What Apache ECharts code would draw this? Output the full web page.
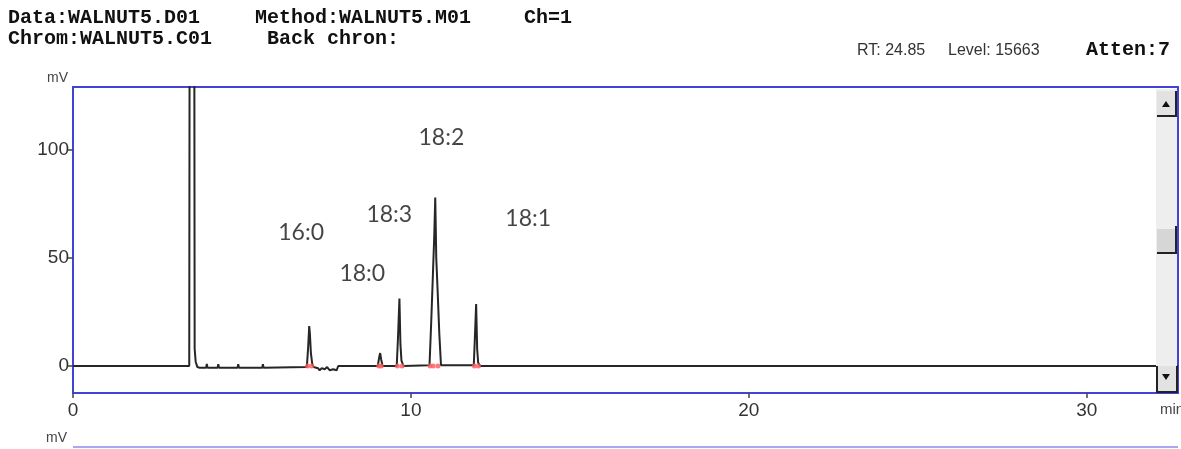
<!DOCTYPE html>
<html>
<head>
<meta charset="utf-8">
<script src="https://cdn.jsdelivr.net/npm/echarts@6/dist/echarts.min.js"></script>
<style>
html,body{margin:0;padding:0;background:#fff;}
#chart{width:1181px;height:449px;}
</style>
</head>
<body>
<div id="chart"></div>
<script>
// Retention time (min) and detector signal (mV)
const timeMin = [0, 3.44, 3.46, 3.58, 3.60, 3.63, 3.68, 3.75, 3.94, 3.96, 3.98, 4.28, 4.30, 4.32, 4.87, 4.89, 4.91, 5.60, 5.62, 5.64,
  6.92, 6.96, 6.99, 7.01, 7.04, 7.08, 7.12, 7.25, 7.30, 7.36, 7.45, 7.52, 7.60, 7.70, 7.80, 7.85,
  9.02, 9.06, 9.09, 9.12, 9.16, 9.58, 9.62, 9.66, 9.69, 9.72, 9.78,
  10.55, 10.60, 10.65, 10.69, 10.72, 10.75, 10.79, 10.84, 10.89,
  11.86, 11.89, 11.93, 11.96, 11.99, 12.05, 32.7];
const signalMv = [0, 0, 300, 300, 8, 2, -0.5, -0.8, -0.8, 1, -0.8, -0.8, 0.8, -0.8, -0.8, 0.8, -0.8, -0.8, 0.8, -0.8,
  -0.5, 9, 18.5, 15, 6, 1, -0.5, -1, -2, -1, -1.5, -0.5, -2, -1.5, -2, 0,
  0, 4, 6, 3, 0, 0, 14, 31.3, 10, 2.5, 0,
  0.3, 20, 42, 60, 78, 50, 35, 15, 0.3,
  0.3, 12, 28.7, 8, 1.5, 0, 0];
// Integration marks (peak start / end) on the baseline
const markTimes = [6.94, 7.06, 9.05, 9.12, 9.60, 9.74, 10.57, 10.66, 10.80, 11.88, 12.00];
const markMv = [0, 0, 0, 0, 0, 0, 0, 0, 0, 0, 0];
// Peak annotations
const peakNames = ['16:0', '18:0', '18:3', '18:2', '18:1'];
const peakLabelTime = [6.75, 8.56, 9.36, 10.90, 13.47];
const peakLabelMv = [61.6, 42.6, 69.9, 105.6, 68.1];
// Axis ticks
const xTicks = [0, 10, 20, 30];
const yTicks = [0, 50, 100];

const chart = echarts.init(document.getElementById('chart'), null, {renderer: 'canvas'});
const mono = '"Liberation Mono", "DejaVu Sans Mono", monospace';
const narrow = '"Liberation Sans Narrow", "Liberation Sans", Arial, sans-serif';
const blue = '#4343d6';

const option = {
  animation: false,
  backgroundColor: '#ffffff',
  grid: {left: 73, top: 87, width: 1105, height: 306, show: true, borderColor: blue, borderWidth: 2, backgroundColor: 'transparent'},
  xAxis: {
    type: 'value', min: 0, max: 32.7,
    axisLine: {show: false, onZero: false},
    splitLine: {show: false},
    axisTick: {show: true, inside: false, length: 5, lineStyle: {color: '#444', width: 1.5}, customValues: xTicks},
    axisLabel: {customValues: xTicks, color: '#333', fontFamily: narrow, fontSize: 19, margin: 8}
  },
  yAxis: {
    type: 'value', min: -12.5, max: 129.2,
    axisLine: {show: false, onZero: false},
    splitLine: {show: false},
    axisTick: {show: true, inside: false, length: 5, lineStyle: {color: '#444', width: 1.5}, customValues: yTicks},
    axisLabel: {customValues: yTicks, color: '#333', fontFamily: narrow, fontSize: 19, margin: 4}
  },
  series: [
    {
      type: 'line', data: timeMin.map((t, i) => [t, signalMv[i]]),
      showSymbol: false, clip: true, z: 3,
      lineStyle: {color: '#262626', width: 2}
    },
    {
      type: 'scatter', data: markTimes.map((t, i) => [t, markMv[i]]),
      symbol: 'circle', symbolSize: 5, z: 4,
      itemStyle: {color: '#ff5a5a'}
    },
    {
      type: 'scatter', data: peakLabelTime.map((t, i) => ({value: [t, peakLabelMv[i]], name: peakNames[i]})),
      symbolSize: 1, itemStyle: {color: 'transparent'}, z: 5,
      label: {show: true, position: 'inside', formatter: p => p.name, color: '#151515', fontFamily: 'Lato, "Noto Sans", sans-serif', fontSize: 23}
    }
  ],
  graphic: [
    {type: 'text', left: 8, top: 8, style: {text: 'Data:WALNUT5.D01', font: 'bold 20px ' + mono, fill: '#111'}},
    {type: 'text', left: 255, top: 8, style: {text: 'Method:WALNUT5.M01', font: 'bold 20px ' + mono, fill: '#111'}},
    {type: 'text', left: 524, top: 8, style: {text: 'Ch=1', font: 'bold 20px ' + mono, fill: '#111'}},
    {type: 'text', left: 8, top: 29, style: {text: 'Chrom:WALNUT5.C01', font: 'bold 20px ' + mono, fill: '#111'}},
    {type: 'text', left: 267, top: 29, style: {text: 'Back chron:', font: 'bold 20px ' + mono, fill: '#111'}},
    {type: 'text', left: 857, top: 43, style: {text: 'RT: 24.85', font: '16px ' + narrow, fill: '#333'}},
    {type: 'text', left: 948, top: 43, style: {text: 'Level: 15663', font: '16px ' + narrow, fill: '#333'}},
    {type: 'text', left: 1086, top: 40, style: {text: 'Atten:7', font: 'bold 20px ' + mono, fill: '#111'}},
    {type: 'text', left: 47, top: 71, style: {text: 'mV', font: '14px ' + narrow, fill: '#444'}},
    {type: 'text', left: 1160, top: 402, style: {text: 'min', font: '15px ' + narrow, fill: '#444'}},
    {type: 'text', left: 46, top: 431, style: {text: 'mV', font: '14px ' + narrow, fill: '#444'}},
    {type: 'line', z: 10, shape: {x1: 73, y1: 447, x2: 1178, y2: 447}, style: {stroke: '#a8a8f0', lineWidth: 2}},
    // scrollbar
    {type: 'rect', z: 100, shape: {x: 1156, y: 89, width: 21, height: 303}, style: {fill: '#eeeeee'}},
    {type: 'rect', z: 101, shape: {x: 1157, y: 91, width: 19, height: 25}, style: {fill: '#e2e2e2'}},
    {type: 'polyline', z: 102, shape: {points: [[1157, 116], [1176, 116], [1176, 91]]}, style: {stroke: '#222', lineWidth: 2, fill: null}},
    {type: 'polygon', z: 102, shape: {points: [[1162, 107], [1170, 107], [1166, 101]]}, style: {fill: '#111'}},
    {type: 'rect', z: 101, shape: {x: 1157, y: 229, width: 19, height: 23}, style: {fill: '#d6d6d6'}},
    {type: 'polyline', z: 102, shape: {points: [[1157, 253], [1176, 253], [1176, 226]]}, style: {stroke: '#222', lineWidth: 2, fill: null}},
    {type: 'rect', z: 101, shape: {x: 1157, y: 366, width: 19, height: 25}, style: {fill: '#e2e2e2'}},
    {type: 'polyline', z: 102, shape: {points: [[1157, 366], [1157, 392], [1177, 392], [1177, 366]]}, style: {stroke: '#222', lineWidth: 2, fill: null}},
    {type: 'polygon', z: 102, shape: {points: [[1162, 374], [1170, 374], [1166, 380]]}, style: {fill: '#111'}}
  ]
};
chart.setOption(option);
</script>
</body>
</html>
